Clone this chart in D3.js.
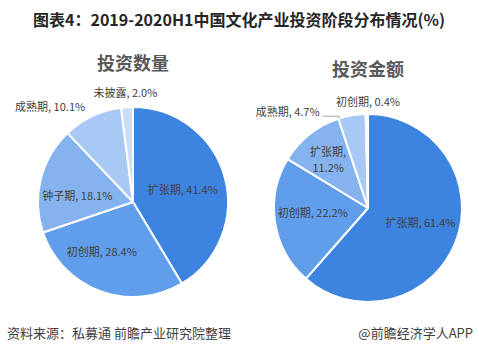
<!DOCTYPE html>
<html><head><meta charset="utf-8">
<script src="https://cdn.jsdelivr.net/npm/d3@7"></script>
<style>
html,body{margin:0;padding:0;background:#fff;}
svg{display:block;font-family:"Noto Sans CJK SC","Noto Sans",sans-serif;}
</style></head>
<body>
<script>
// ---- data ----
const chartTitle = "图表4：2019-2020H1中国文化产业投资阶段分布情况(%)";
const leftTitle = "投资数量";
const leftCategories = ["扩张期", "初创期", "钟子期", "成熟期", "未披露"];
const leftValues = [41.4, 28.4, 18.1, 10.1, 2.0];
const rightTitle = "投资金额";
const rightCategories = ["扩张期", "初创期", "扩张期", "成熟期", "初创期"];
const rightValues = [61.4, 22.2, 11.2, 4.7, 0.4];
const sourceText = "资料来源：私募通 前瞻产业研究院整理";
const creditText = "@前瞻经济学人APP";

// ---- styles / layout ----
const W = 479, H = 355;
const colors = ["#3d84e0", "#609dea", "#84b3ef", "#a9c9f5", "#c7ddf8"];
// label placement: [angle in degrees clockwise from top, radius fraction]
const leftLabelPos = [[76, 0.54], [212, 0.62], [276, 0.59], [319, 1.33], [356, 1.15]];
const rightLabelPos = [[106, 0.58], [265, 0.59], [320, 0.66], [320, 1.33], [0, 1.13]];

const svg = d3.select("body").append("svg").attr("width", W).attr("height", H);

svg.append("text").attr("x", 239).attr("y", 26).attr("text-anchor", "middle")
  .attr("font-size", 16).attr("font-weight", "bold").attr("fill", "#262626").text(chartTitle);

function drawPie(cx, cy, R, title, titleY, cats, vals, labelPos, multiLine, leaderIdx) {
  const g = svg.append("g").attr("transform", `translate(${cx},${cy})`);
  svg.append("text").attr("x", cx).attr("y", titleY).attr("text-anchor", "middle")
    .attr("font-size", 18).attr("font-weight", "bold").attr("fill", "#595959").text(title);
  const pie = d3.pie().sort(null).value(d => d)(vals);
  const arc = d3.arc().innerRadius(0).outerRadius(R);
  g.selectAll("path").data(pie).join("path")
    .attr("d", arc).attr("fill", (d, i) => colors[i])
    .attr("stroke", "#fff").attr("stroke-width", 2).attr("stroke-linejoin", "round");
  const polar = (deg, r) => [r * Math.sin(deg * Math.PI / 180), -r * Math.cos(deg * Math.PI / 180)];
  pie.forEach((d, i) => {
    const [x, y] = polar(labelPos[i][0], R * labelPos[i][1]);
    const txt = `${cats[i]}, ${vals[i].toFixed(1)}%`;
    if (multiLine.includes(i)) {
      g.append("text").attr("text-anchor", "middle").attr("font-size", 11).attr("fill", "#404040")
        .attr("x", x).attr("y", y - 8 + 4).text(`${cats[i]},`);
      g.append("text").attr("text-anchor", "middle").attr("font-size", 11).attr("fill", "#404040")
        .attr("x", x).attr("y", y + 8 + 4).text(`${vals[i].toFixed(1)}%`);
    } else {
      g.append("text").attr("text-anchor", "middle").attr("font-size", 11).attr("fill", "#404040")
        .attr("x", x).attr("y", y + 4).text(txt);
    }
  });
  if (leaderIdx != null) {
    const d = pie[leaderIdx];
    const [ex, ey] = polar(d.startAngle * 180 / Math.PI + 0.5, R);
    const [lx, ly] = polar(labelPos[leaderIdx][0], R * labelPos[leaderIdx][1]);
    g.append("polyline")
      .attr("points", `${lx + 35},${ly + 4} ${ex},${ly + 4} ${ex},${ey}`)
      .attr("fill", "none").attr("stroke", "#a6a6a6").attr("stroke-width", 1);
  }
}

drawPie(133, 202, 95, leftTitle, 70, leftCategories, leftValues, leftLabelPos, [], null);
drawPie(368, 208, 94, rightTitle, 76, rightCategories, rightValues, rightLabelPos, [2], 3);

svg.append("text").attr("x", 7).attr("y", 338).attr("font-size", 13).attr("fill", "#404040").text(sourceText);
svg.append("text").attr("x", 473).attr("y", 338).attr("text-anchor", "end").attr("font-size", 13).attr("fill", "#404040").text(creditText);
</script>
</body></html>
